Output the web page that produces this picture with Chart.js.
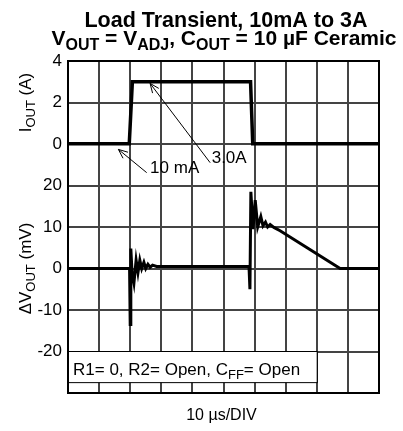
<!DOCTYPE html>
<html>
<head>
<meta charset="utf-8">
<script src="https://cdn.jsdelivr.net/npm/chart.js@4.4.0/dist/chart.umd.min.js"></script>
<style>
  html, body { margin: 0; padding: 0; background: #fff; }
</style>
</head>
<body>
<canvas id="chart" width="403" height="431"></canvas>
<script>
// x in divisions (10 us / DIV)
const currentX = [0, 1.97, 2.07, 5.87, 5.94, 10];
const currentA = [0.01, 0.01, 3, 3, 0.01, 0.01];

const voltX = [0, 1.98, 2.0, 2.02, 2.06, 2.12, 2.19, 2.25, 2.31, 2.37, 2.44, 2.5, 2.57, 2.64, 2.72, 2.85, 3.0,
               5.82, 5.85, 5.88, 5.95, 6.02, 6.1, 6.2, 6.27, 6.35, 6.42, 6.5, 6.62, 6.82, 8.75, 10];
const voltMV = [0, 0, -13.5, 4.8, -1, -3.5, 2, -1, 2, 0, 1.5, 0, 1, 0.3, 0.8, 0.5, 0.5,
                0.5, -5, 18.5, 9.5, 16.5, 10, 12.5, 10.3, 11.2, 10, 10.6, 9.9, 9.1, 0, 0];

const currentRange = [-12, 4];   // A
const voltRange = [-30, 50];     // mV
const currentTickTop = 0;        // only 0..4 A labels shown

const FONT = 'Arial, "Liberation Sans", sans-serif';

function toPoints(xs, ys) {
    return xs.map((x, i) => ({x: x, y: ys[i]}));
}

// draws text made of normal + subscript parts
function richText(ctx, parts, x, y, size, bold, align) {
    const subSize = Math.round(size * 0.78);
    const w = parts.reduce((s, p) => {
        ctx.font = (bold ? 'bold ' : '') + (p.sub ? subSize : size) + 'px ' + FONT;
        return s + ctx.measureText(p.t).width;
    }, 0);
    let cx = align === 'center' ? x - w / 2 : x;
    ctx.textAlign = 'left';
    ctx.textBaseline = 'alphabetic';
    parts.forEach(p => {
        ctx.font = (bold ? 'bold ' : '') + (p.sub ? subSize : size) + 'px ' + FONT;
        ctx.fillText(p.t, cx, p.sub ? y + size * 0.25 : y);
        cx += ctx.measureText(p.t).width;
    });
}

function arrow(ctx, x1, y1, x2, y2) {
    // from tail (x1,y1) to tip (x2,y2)
    const a = Math.atan2(y2 - y1, x2 - x1);
    const len = 10;
    ctx.beginPath();
    ctx.moveTo(x1, y1);
    ctx.lineTo(x2, y2);
    ctx.moveTo(x2 - len * Math.cos(a - 0.4), y2 - len * Math.sin(a - 0.4));
    ctx.lineTo(x2, y2);
    ctx.lineTo(x2 - len * Math.cos(a + 0.4), y2 - len * Math.sin(a + 0.4));
    ctx.stroke();
}

const decorations = {
    id: 'decorations',
    beforeDatasetsDraw: (chart) => {
        const {ctx, chartArea: {left, right, top, bottom}, scales: {x, yV}} = chart;
        ctx.save();
        // condition box
        const bx1 = x.getPixelForValue(0), bx2 = x.getPixelForValue(8);
        const by1 = yV.getPixelForValue(-20), by2 = yV.getPixelForValue(-27.5);
        ctx.fillStyle = '#fff';
        ctx.fillRect(bx1, by1, bx2 - bx1, by2 - by1);
        ctx.strokeStyle = '#000';
        ctx.lineWidth = 1;
        ctx.strokeRect(bx1 + 0.5, by1, bx2 - bx1, by2 - by1);
        ctx.fillStyle = '#000';
        richText(ctx, [{t: 'R1= 0, R2= Open, C'}, {t: 'FF', sub: true}, {t: '= Open'}],
            bx1 + 5, by1 + 23, 17, false, 'left');
        // frame
        ctx.strokeStyle = '#000';
        ctx.lineWidth = 2;
        ctx.strokeRect(left, top, right - left, bottom - top);
        ctx.restore();
    },
    afterDatasetsDraw: (chart) => {
        const {ctx, scales: {x, yI}} = chart;
        ctx.save();
        ctx.strokeStyle = '#000';
        ctx.lineWidth = 1;
        arrow(ctx, x.getPixelForValue(4.57), yI.getPixelForValue(-0.9),
                   x.getPixelForValue(2.64), yI.getPixelForValue(2.92));
        arrow(ctx, x.getPixelForValue(2.53), yI.getPixelForValue(-1.38),
                   x.getPixelForValue(1.62), yI.getPixelForValue(-0.26));
        ctx.fillStyle = '#000';
        ctx.font = '17px ' + FONT;
        ctx.textAlign = 'left';
        ctx.textBaseline = 'middle';
        ctx.fillText('3.0A', x.getPixelForValue(4.62), yI.getPixelForValue(-0.7));
        ctx.fillText('10 mA', x.getPixelForValue(2.64), yI.getPixelForValue(-1.15));
        ctx.restore();
    },
    afterDraw: (chart) => {
        const {ctx, chartArea: {left, right}, scales: {yV, yI}} = chart;
        ctx.save();
        ctx.fillStyle = '#000';
        richText(ctx, [{t: 'Load Transient, 10mA to 3A'}], 226, 27, 21.5, true, 'center');
        richText(ctx, [{t: 'V'}, {t: 'OUT', sub: true}, {t: ' = V'}, {t: 'ADJ', sub: true},
            {t: ', C'}, {t: 'OUT', sub: true}, {t: ' = 10 µF Ceramic'}], 224, 45, 21, true, 'center');
        richText(ctx, [{t: '10 µs/DIV'}], (left + right) / 2 - 2, 420, 16, false, 'center');
        // rotated axis titles
        ctx.save();
        ctx.translate(31, yI.getPixelForValue(2));
        ctx.rotate(-Math.PI / 2);
        richText(ctx, [{t: 'I'}, {t: 'OUT', sub: true}, {t: ' (A)'}], 0, 0, 17, false, 'center');
        ctx.restore();
        ctx.save();
        ctx.translate(31, yV.getPixelForValue(0));
        ctx.rotate(-Math.PI / 2);
        richText(ctx, [{t: 'ΔV'}, {t: 'OUT', sub: true}, {t: ' (mV)'}], 0, 0, 17, false, 'center');
        ctx.restore();
        ctx.restore();
    }
};

const gridStyle = {color: '#444', lineWidth: 2, drawTicks: false};

new Chart(document.getElementById('chart'), {
    type: 'scatter',
    data: {
        datasets: [
            {
                label: 'IOUT',
                data: toPoints(currentX, currentA),
                yAxisID: 'yI',
                showLine: true,
                borderColor: '#000',
                borderWidth: 3.5,
                pointRadius: 0,
                tension: 0
            },
            {
                label: 'dVOUT',
                data: toPoints(voltX, voltMV),
                yAxisID: 'yV',
                showLine: true,
                borderColor: '#000',
                borderWidth: 3,
                pointRadius: 0,
                tension: 0
            }
        ]
    },
    options: {
        responsive: false,
        animation: false,
        layout: {padding: {left: 0, top: 61, right: 24, bottom: 38}},
        plugins: {legend: {display: false}, tooltip: {enabled: false}},
        scales: {
            x: {
                type: 'linear',
                min: 0,
                max: 10,
                ticks: {stepSize: 1, display: false},
                grid: gridStyle,
                border: {display: false},
                afterFit: (s) => { s.height = 0; }
            },
            yV: {
                type: 'linear',
                position: 'left',
                min: voltRange[0],
                max: voltRange[1],
                ticks: {
                    stepSize: 10,
                    color: '#000',
                    padding: 6,
                    font: {family: FONT, size: 17},
                    callback: (v) => {
                        // top part of the scale is labelled in amps
                        const amps = currentRange[0] + (v - voltRange[0]) *
                            (currentRange[1] - currentRange[0]) / (voltRange[1] - voltRange[0]);
                        if (amps >= currentTickTop) return String(Math.round(amps));
                        if (v <= voltRange[0]) return '';
                        return String(v);
                    }
                },
                grid: gridStyle,
                border: {display: false},
                afterFit: (s) => { s.width = 68; }
            },
            yI: {
                type: 'linear',
                position: 'right',
                min: currentRange[0],
                max: currentRange[1],
                display: false
            }
        }
    },
    plugins: [decorations]
});
</script>
</body>
</html>
